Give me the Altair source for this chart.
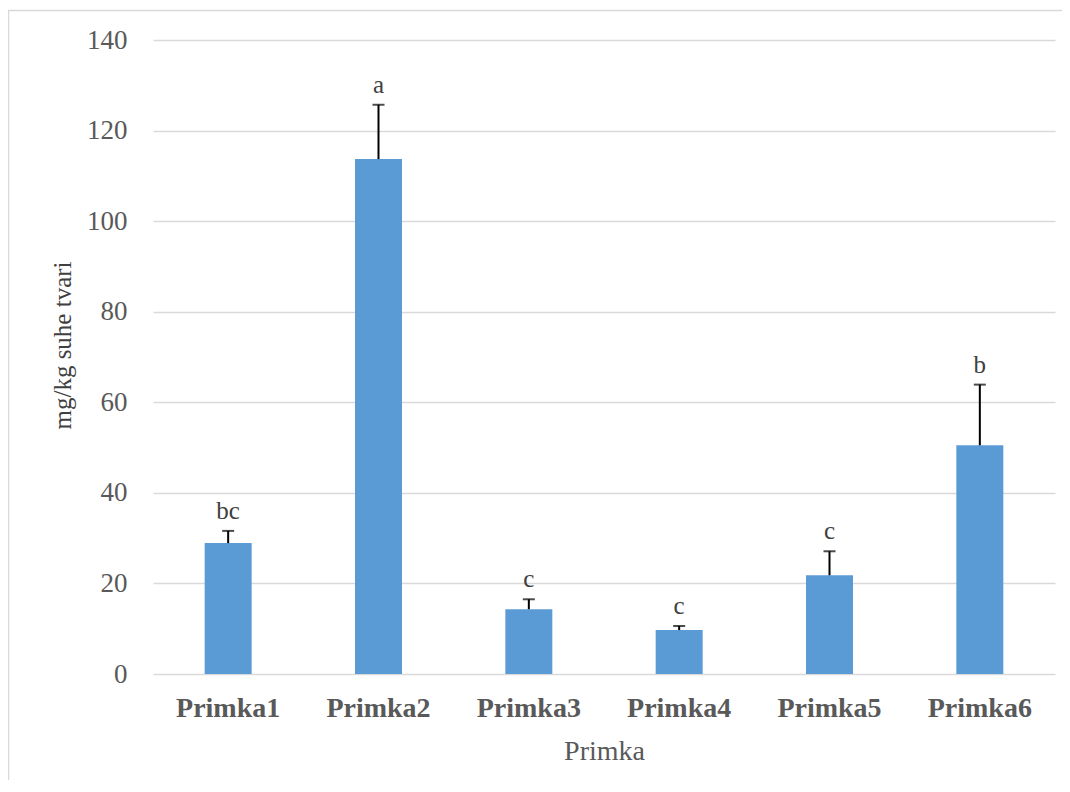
import altair as alt
import pandas as pd

categories = ["Primka1", "Primka2", "Primka3", "Primka4", "Primka5", "Primka6"]
means = [28.9, 113.7, 14.3, 9.7, 21.8, 50.5]
errors = [2.7, 12.0, 2.2, 0.9, 5.3, 13.4]
letters = ["bc", "a", "c", "c", "c", "b"]
y_ticks = [0, 20, 40, 60, 80, 100, 120, 140]

df = pd.DataFrame({"cat": categories, "mean": means, "err": errors, "letter": letters})

FONT = "Liberation Serif"

base = alt.Chart(df).transform_calculate(upper="datum.mean + datum.err")

x_enc = alt.X(
    "cat:N",
    sort=categories,
    scale=alt.Scale(paddingInner=0, paddingOuter=0),
    axis=alt.Axis(
        title="Primka",
        labelFont=FONT,
        labelFontWeight="bold",
        labelFontSize=28,
        labelColor="#595959",
        labelAngle=0,
        labelPadding=20,
        ticks=False,
        domain=False,
        grid=False,
        titleFont=FONT,
        titleFontSize=28,
        titleFontWeight="normal",
        titleColor="#595959",
        titleY=77,
        titleBaseline="middle",
    ),
)

y_scale = alt.Scale(domain=[0, 140], nice=False)

bars = base.mark_bar(color="#5B9BD5", size=47).encode(
    x=x_enc,
    y=alt.Y(
        "mean:Q",
        scale=y_scale,
        axis=alt.Axis(
            values=y_ticks,
            title="mg/kg suhe tvari",
            labelFont=FONT,
            labelFontSize=27,
            labelColor="#595959",
            labelPadding=26,
            ticks=False,
            domain=False,
            gridColor="#d9d9d9",
            gridWidth=1.5,
            titleFont=FONT,
            titleFontSize=25,
            titleFontWeight="normal",
            titleColor="#404040",
            titleAngle=-90,
            titleX=-91,
            titleY=305,
            titleAlign="center",
            titleBaseline="middle",
        ),
    ),
)

rules = base.mark_rule(color="black", strokeWidth=2).encode(
    x=alt.X("cat:N", sort=categories),
    y=alt.Y("mean:Q", scale=y_scale),
    y2="upper:Q",
)

caps = base.mark_tick(color="black", thickness=2, size=12, orient="horizontal").encode(
    x=alt.X("cat:N", sort=categories),
    y=alt.Y("upper:Q", scale=y_scale),
)

labels = base.mark_text(
    font=FONT, fontSize=25, color="#404040", baseline="alphabetic", dy=-12
).encode(
    x=alt.X("cat:N", sort=categories),
    y=alt.Y("upper:Q", scale=y_scale),
    text="letter:N",
)

frame_df = pd.DataFrame({"a": [0]})
border_top = alt.Chart(frame_df).mark_rule(color="#d9d9d9", strokeWidth=1.5).encode(
    x=alt.value(-145), x2=alt.value(940), y=alt.value(-29.5)
)
border_left = alt.Chart(frame_df).mark_rule(color="#d9d9d9", strokeWidth=1.5).encode(
    x=alt.value(-144.5), y=alt.value(-30), y2=alt.value(800)
)

chart = (
    alt.layer(border_top, border_left, bars, rules, caps, labels)
    .properties(
        width=902,
        height=634,
        autosize=alt.AutoSizeParams(type="none"),
        padding={"left": 145, "top": 32, "right": 7, "bottom": 106},
    )
    .configure(background="#ffffff")
    .configure_view(strokeWidth=0, stroke="transparent")
)

chart.save("out.html", embed_options={"renderer": "svg", "actions": False})
